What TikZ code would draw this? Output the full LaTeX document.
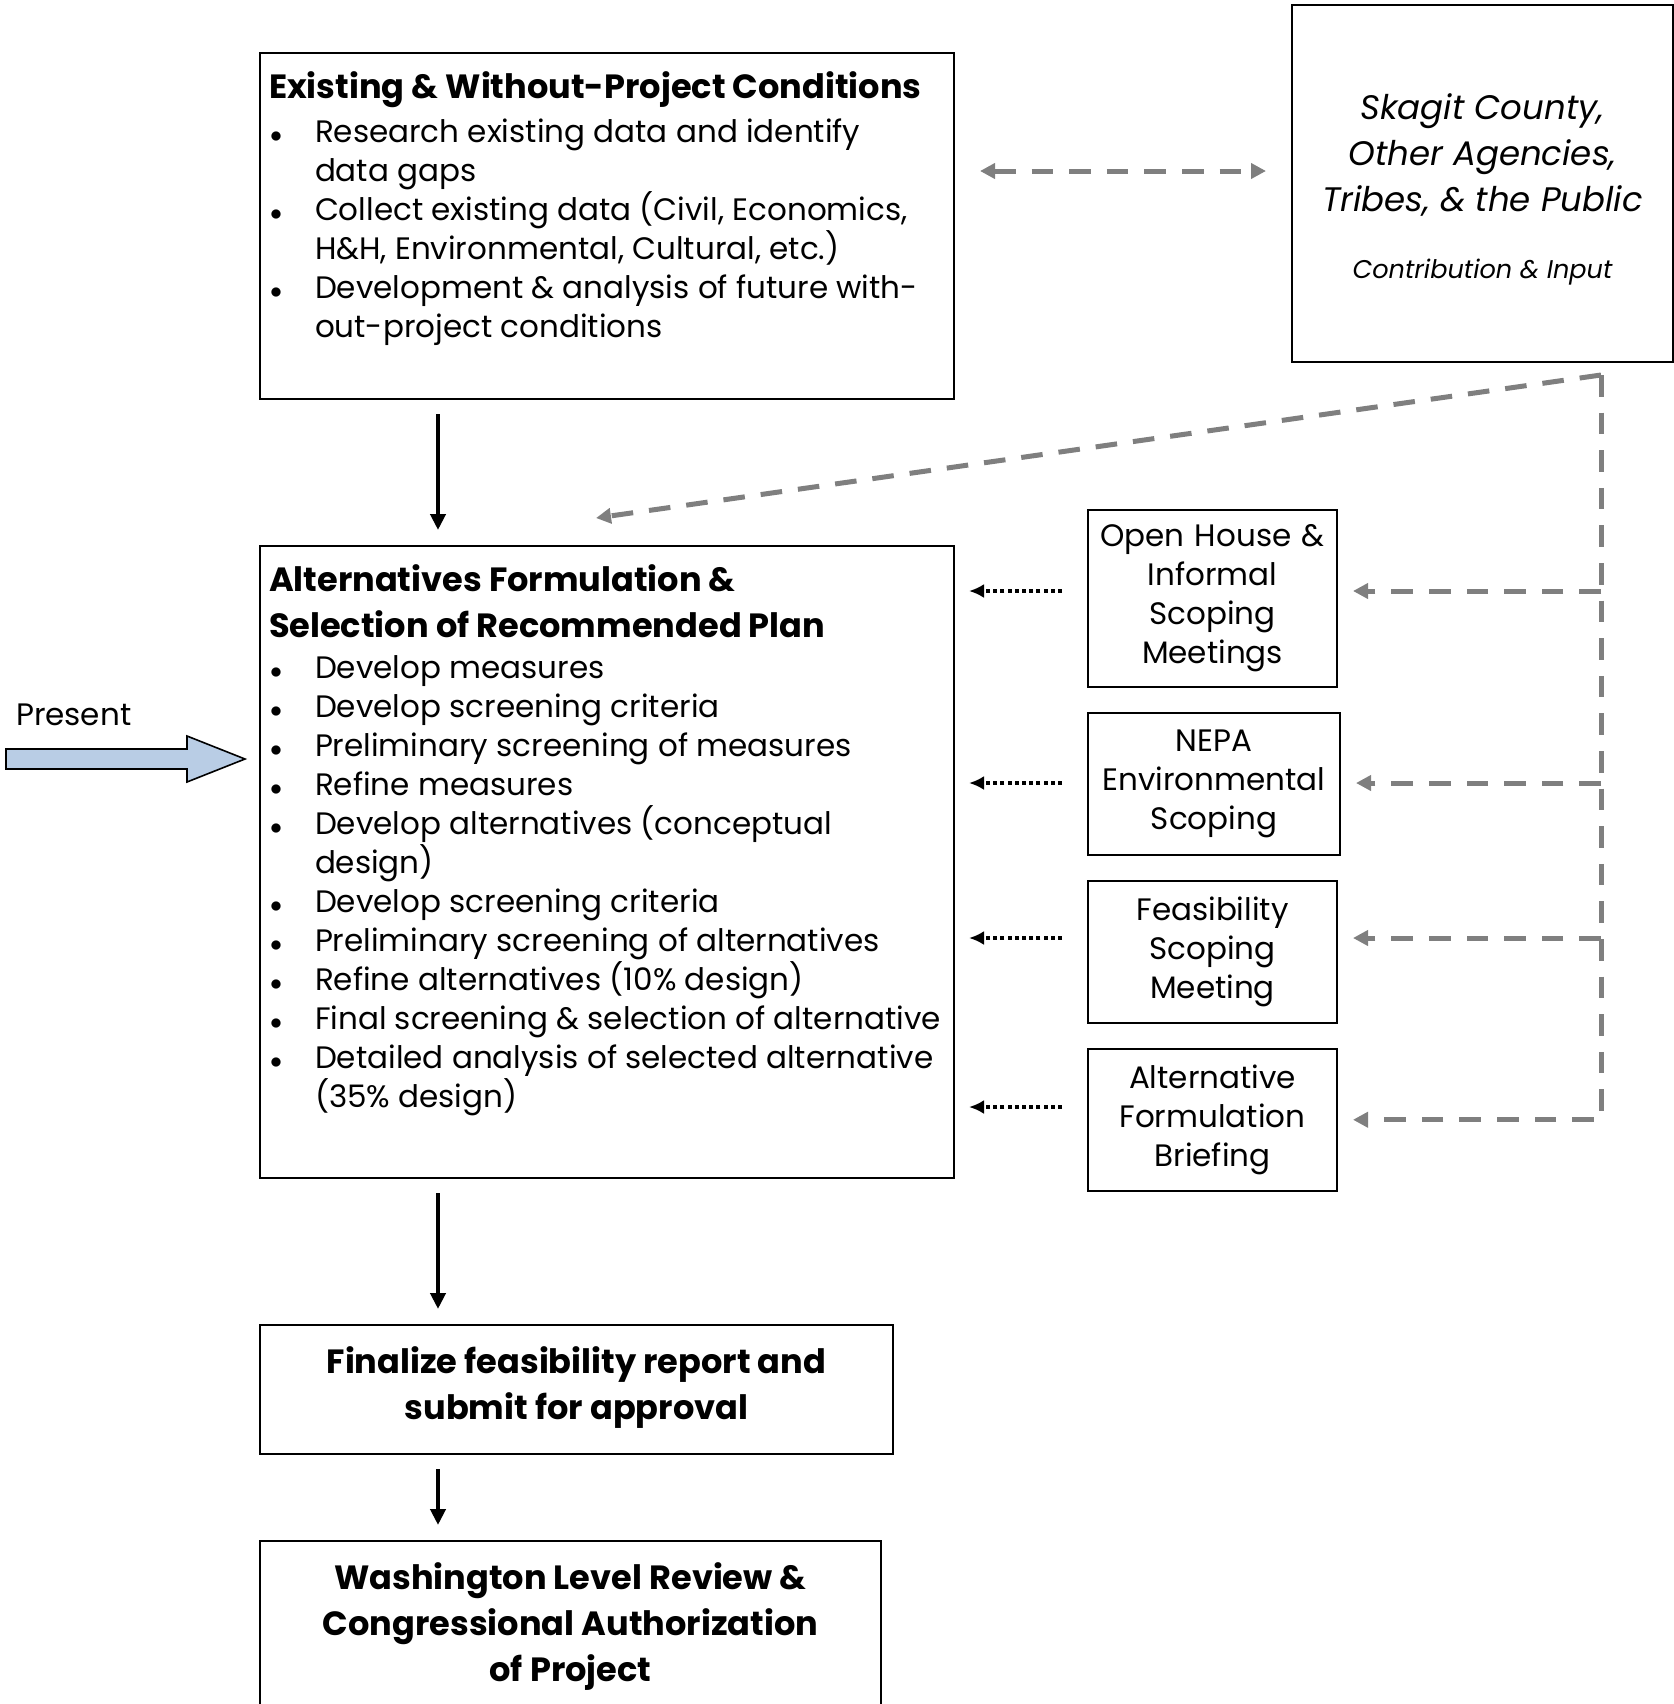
\documentclass[tikz,border=0pt]{standalone}
\usepackage{fontspec}
\setmainfont{Poppins}
\usepackage{tikz}
\usetikzlibrary{arrows.meta,calc}
\definecolor{linkgray}{RGB}{127,127,127}
\definecolor{presentblue}{RGB}{185,205,229}
\newcommand{\pxsize}{0.5pt}
\newcommand{\bodyfont}{\fontsize{15.5pt}{19.5pt}\selectfont}
\newcommand{\headfont}{\fontsize{16.8pt}{22.8pt}\selectfont\bfseries}
\newcommand{\bul}[1]{\par\hangindent=23pt\hangafter=1\noindent
	\makebox[23pt][l]{\hspace{0.5pt}{\fontsize{11.5pt}{0pt}\selectfont$\bullet$}}#1}
\newcommand{\stagetext}[3]{\parbox[t][#1][t]{#2}{#3}}
\tikzset{
	stagebox/.style={draw, line width=1pt, anchor=north west, inner xsep=4.5pt, inner ysep=9.5pt, font=\bodyfont},
	eventbox/.style={draw, line width=1pt, anchor=north west, inner sep=0pt, align=center, text width=120pt,
		minimum width=124.5pt, minimum height=70.75pt, font=\bodyfont},
	partybox/.style={draw, line width=1pt, anchor=north west, inner sep=0pt},
	flowarrow/.style={-{Triangle[length=8pt,width=7.5pt]}, line width=2pt, shorten <=7pt, shorten >=7.5pt},
	feedarrow/.style={-{Latex[length=7.5pt,width=7pt]}, line width=2pt, dash pattern=on 2pt off 1.6pt,
		shorten <=12.5pt, shorten >=7pt},
	linkline/.style={linkgray, line width=2.5pt, dash pattern=on 10.8pt off 8pt},
	linktip/.style={-{Triangle[length=7.5pt,width=7.5pt]}, shorten >=7.5pt}
}

\begin{document}
\begin{tikzpicture}[x=\pxsize,y=-\pxsize]
	\useasboundingbox (0,0) rectangle (1674,1704);

	\node[stagebox] (exist) at (259,52) {\stagetext{154pt}{338pt}{%
		{\headfont Existing \& Without-Project Conditions\par}\vspace{2.5pt}
		\bul{Research existing data and identify\newline data gaps}
		\bul{Collect existing data (Civil, Economics,\newline H\&H, Environmental, Cultural, etc.)}
		\bul{Development \& analysis of future with-\newline out-project conditions}}};

	\node[stagebox] (alt) at (259,545) {\stagetext{297pt}{338pt}{%
		{\headfont Alternatives Formulation \&\newline Selection of Recommended Plan\par}\vspace{1pt}
		\bul{Develop measures}
		\bul{Develop screening criteria}
		\bul{Preliminary screening of measures}
		\bul{Refine measures}
		\bul{Develop alternatives (conceptual\newline design)}
		\bul{Develop screening criteria}
		\bul{Preliminary screening of alternatives}
		\bul{Refine alternatives (10\% design)}
		\bul{Final screening \& selection of alternative}
		\bul{Detailed analysis of selected alternative\newline (35\% design)}}};

	\node[stagebox, inner ysep=11pt] (final) at (259,1324) {\stagetext{42.5pt}{307.5pt}{%
		\centering\headfont Finalize feasibility report and\\submit for approval\par}};
	\node[stagebox, inner ysep=11pt] (wash) at (259,1540) {\stagetext{120pt}{301.5pt}{%
		\centering\headfont Washington Level Review \&\\Congressional Authorization\\of Project\par}};

	\node[partybox] (public) at (1291,4) {\stagetext{178.5pt}{190.5pt}{\centering\itshape
		\vspace*{44.5pt}
		{\fontsize{17pt}{23pt}\selectfont Skagit County,\\Other Agencies,\\Tribes, \& the Public\par}
		\vspace{19.5pt}{\fontsize{12.8pt}{14pt}\selectfont Contribution \& Input\par}}};

	\node[eventbox, minimum height=88.5pt] (house) at (1087,509) {Open House \&\\Informal\\Scoping\\Meetings};
	\node[eventbox, minimum width=126pt] (nepa) at (1087,712) {NEPA\\Environmental\\Scoping};
	\node[eventbox] (scoping) at (1087,880) {Feasibility\\Scoping\\Meeting};
	\node[eventbox] (briefing) at (1087,1048) {Alternative\\Formulation\\Briefing};

	\node[anchor=base west, font=\bodyfont] (present) at (9,725) {Present};
	\draw[line width=0.8pt, fill=presentblue] (6,749) -- (187,749) -- (187,736) -- (245,759)
		-- (187,782) -- (187,769) -- (6,769) -- cycle;

	\coordinate (spine) at (438,0);
	\draw[flowarrow] (exist.south -| spine) -- (alt.north -| spine);
	\draw[flowarrow] (alt.south -| spine) -- (final.north -| spine);
	\draw[flowarrow] (final.south -| spine) -- (wash.north -| spine);

	\coordinate (linkrow) at (0,171);
	\draw[linkline, {Triangle[length=7.5pt,width=7.5pt]}-{Triangle[length=7.5pt,width=7.5pt]},
		shorten <=12.5pt, shorten >=12.5pt] (exist.east |- linkrow) -- (public.west |- linkrow);

	\coordinate (ctop) at (1601,375);
	\coordinate (dtip) at (596,518);
	\draw[linkline, -{Triangle[length=7.5pt,width=7.5pt]}] (ctop) -- (dtip);
	\draw[linkline, linktip] (ctop) -- (briefing.east -| ctop) -- (briefing.east);
	\foreach \b/\r in {house/591, nepa/783, scoping/938} {
		\coordinate (row) at (0,\r);
		\draw[linkline, linktip] (ctop |- row) -- (\b.east |- row);
	}
	\foreach \b/\r in {house/591, nepa/783, scoping/938, briefing/1107} {
		\coordinate (row) at (0,\r);
		\draw[feedarrow] (\b.west |- row) -- (alt.east |- row);
	}
\end{tikzpicture}
\end{document}
